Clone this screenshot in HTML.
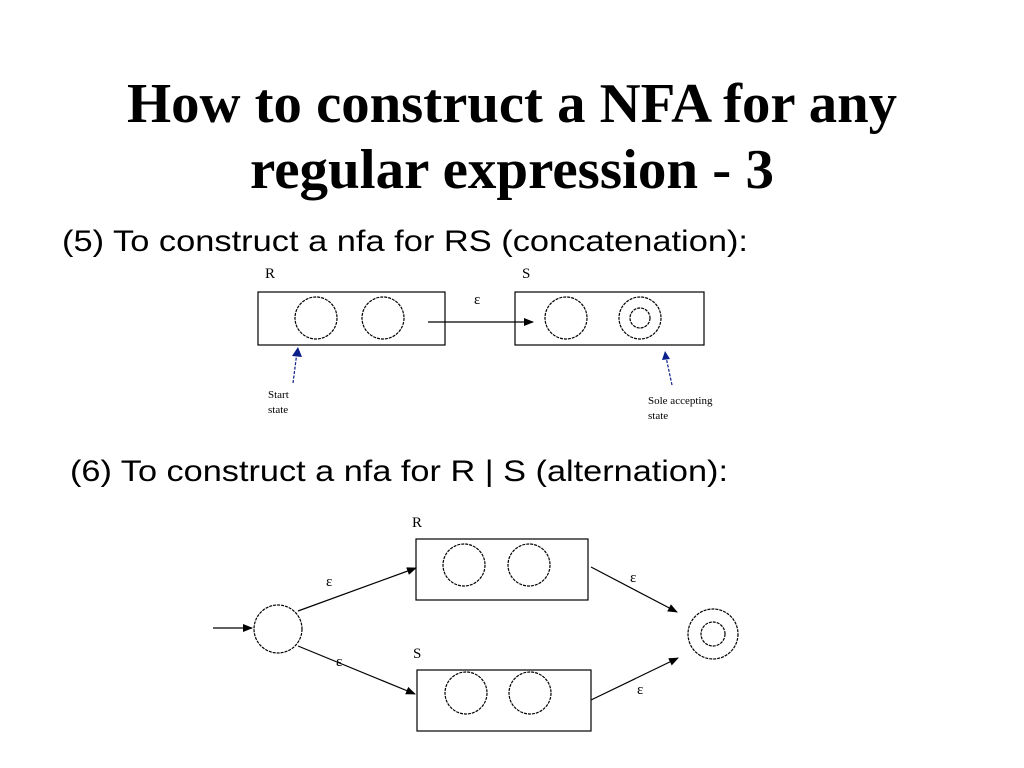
<!DOCTYPE html>
<html><head><meta charset="utf-8"><style>
body{margin:0;width:1024px;height:768px;background:#fff;overflow:hidden}
svg{display:block}
</style></head><body>
<svg width="1024" height="768" viewBox="0 0 1024 768" xmlns="http://www.w3.org/2000/svg">
<defs>
<marker id="a" markerWidth="10" markerHeight="8" refX="9" refY="4" orient="auto" markerUnits="userSpaceOnUse"><path d="M0,0 L10,4 L0,8z" fill="#000"/></marker>
</defs>
<g font-family="Liberation Serif, serif" font-weight="bold" font-size="56" text-anchor="middle" fill="#000">
<text x="512" y="122" textLength="770" lengthAdjust="spacingAndGlyphs">How to construct a NFA for any</text>
<text x="512" y="188" textLength="524" lengthAdjust="spacingAndGlyphs">regular expression - 3</text>
</g>
<g font-family="Liberation Sans, sans-serif" font-size="30" fill="#000">
<text x="62" y="251" textLength="686" lengthAdjust="spacingAndGlyphs">(5) To construct a nfa for RS (concatenation):</text>
<text x="70" y="481" textLength="658" lengthAdjust="spacingAndGlyphs">(6) To construct a nfa for R | S (alternation):</text>
</g>
<g fill="none" stroke="#000" stroke-width="1.2">
<rect x="258" y="292" width="187" height="53"/>
<rect x="515" y="292" width="189" height="53"/>
<g stroke-dasharray="3,1">
<circle cx="316" cy="318" r="21"/><circle cx="383" cy="318" r="21"/>
<circle cx="566" cy="318" r="21"/><circle cx="640" cy="318" r="21"/><circle cx="640" cy="318" r="10"/>
</g>
<line x1="428" y1="322" x2="533" y2="322" marker-end="url(#a)"/>
<line x1="293" y1="383" x2="297" y2="352" stroke="#0a1f8a" stroke-dasharray="3,1.5"/>
<line x1="672" y1="385" x2="666" y2="357" stroke="#0a1f8a" stroke-dasharray="3,1.5"/>
</g>
<path d="M292,356 L298,347 L302,357z" fill="#0a1f8a"/>
<path d="M662,360 L665,351 L670,359z" fill="#0a1f8a"/>
<g font-family="Liberation Serif, serif" font-size="15" fill="#000">
<text x="265" y="278">R</text><text x="522" y="278">S</text>
<text x="474" y="304">ε</text>
<text x="268" y="398" font-size="11">Start</text><text x="268" y="413" font-size="11">state</text>
<text x="648" y="404" font-size="11">Sole accepting</text><text x="648" y="419" font-size="11">state</text>
</g>
<g fill="none" stroke="#000" stroke-width="1.2">
<rect x="416" y="539" width="172" height="61"/>
<rect x="417" y="670" width="174" height="61"/>
<g stroke-dasharray="3,1">
<circle cx="464" cy="565" r="21"/><circle cx="529" cy="565" r="21"/>
<circle cx="466" cy="693" r="21"/><circle cx="530" cy="693" r="21"/>
<circle cx="278" cy="629" r="24"/>
<circle cx="713" cy="634" r="25"/><circle cx="713" cy="634" r="12"/>
</g>
<line x1="213" y1="628" x2="252" y2="628" marker-end="url(#a)"/>
<line x1="298" y1="611" x2="416" y2="568" marker-end="url(#a)"/>
<line x1="298" y1="646" x2="415" y2="694" marker-end="url(#a)"/>
<line x1="591" y1="567" x2="677" y2="612" marker-end="url(#a)"/>
<line x1="591" y1="700" x2="678" y2="658" marker-end="url(#a)"/>
</g>
<g font-family="Liberation Serif, serif" font-size="15" fill="#000">
<text x="412" y="527">R</text><text x="413" y="658">S</text>
<text x="326" y="586">ε</text><text x="336" y="666">ε</text>
<text x="630" y="582">ε</text><text x="637" y="694">ε</text>
</g>
</svg>
</body></html>
